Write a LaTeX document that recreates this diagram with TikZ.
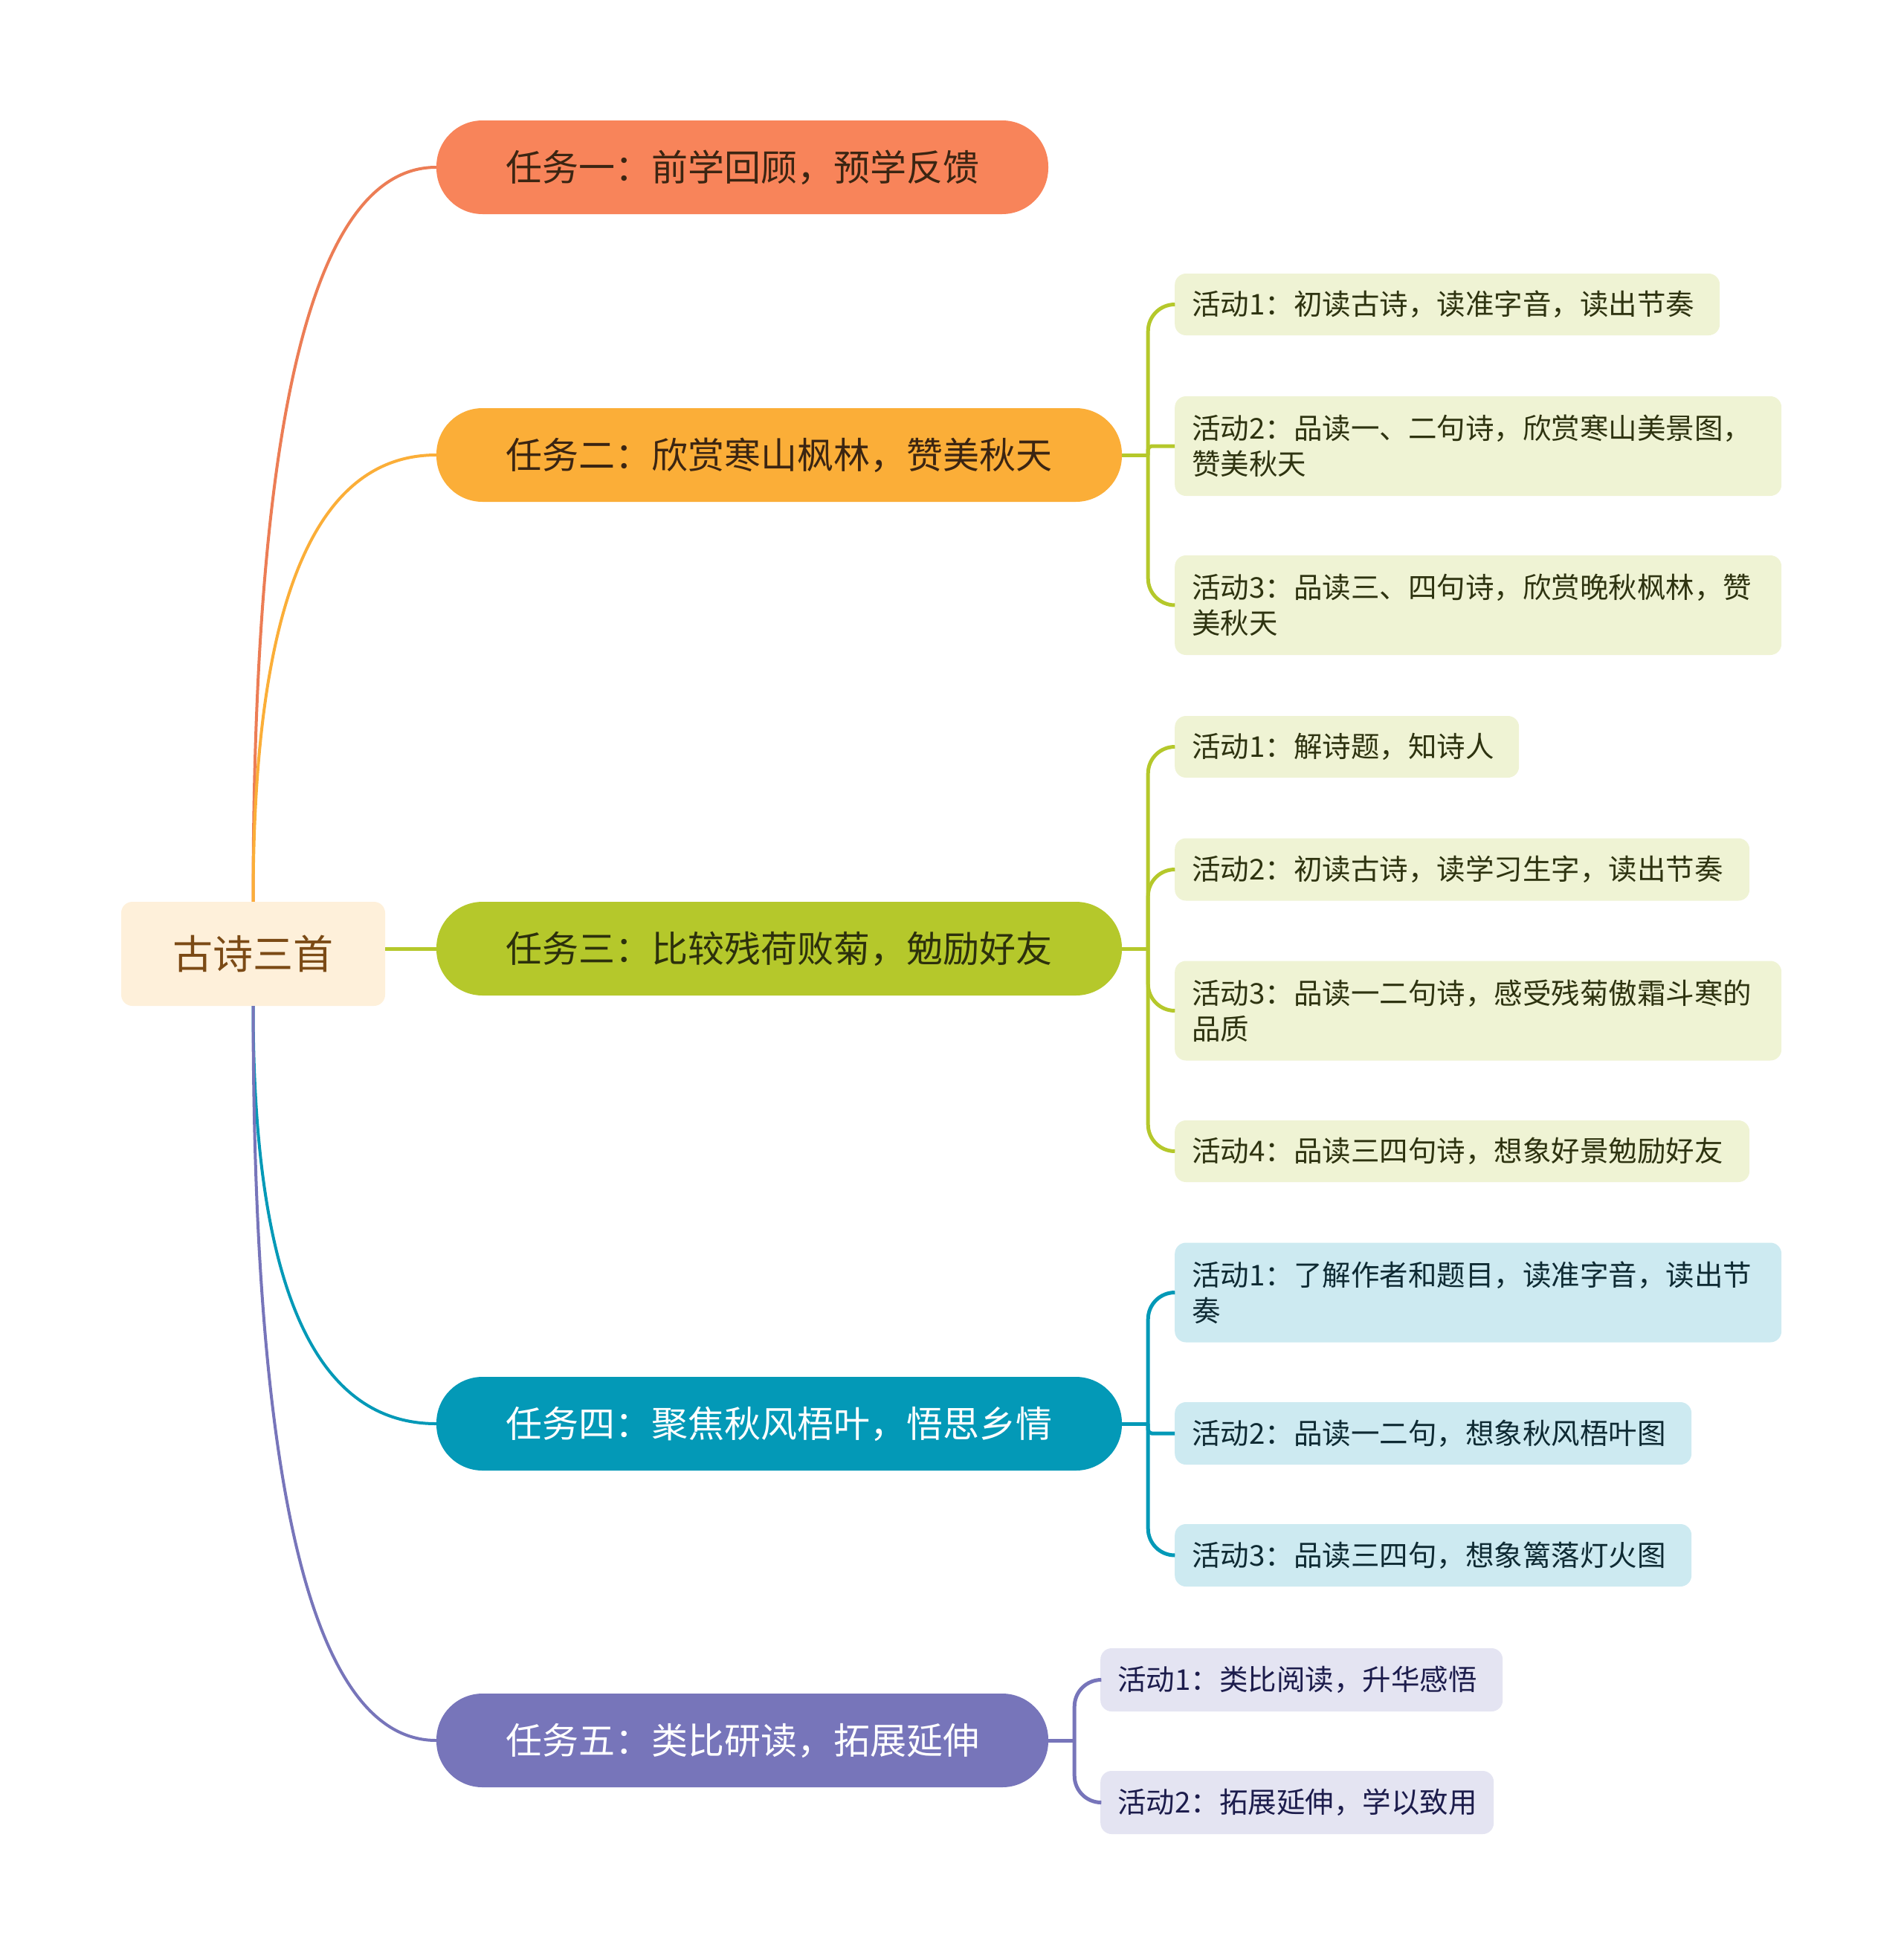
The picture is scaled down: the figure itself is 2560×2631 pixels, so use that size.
\documentclass[tikz,border=0pt]{standalone}
\usepackage{fontspec}
\newfontfamily\cjk{Noto Sans CJK SC}
\usetikzlibrary{calc}
\definecolor{cA}{HTML}{F8845A}
\definecolor{cB}{HTML}{FBAE38}
\definecolor{cC}{HTML}{B5C82B}
\definecolor{cD}{HTML}{0399B7}
\definecolor{cE}{HTML}{7775BA}
\definecolor{rootfill}{HTML}{FEF0DA}
\definecolor{roottext}{HTML}{7B4A15}
\definecolor{darkA}{HTML}{3B2512}
\definecolor{darkC}{HTML}{2C300C}
\definecolor{actgreen}{HTML}{EFF3D4}
\definecolor{actteal}{HTML}{CDEAF1}
\definecolor{actlav}{HTML}{E4E4F2}
\definecolor{txgreen}{HTML}{2E3310}
\definecolor{txteal}{HTML}{0E2A33}
\definecolor{txlav}{HTML}{1C1C4C}
\tikzset{
  rootbox/.style={fill=rootfill, text=roottext, rounded corners=15pt, minimum width=355pt, minimum height=140pt, inner sep=0pt, font=\cjk\fontsize{54}{66}\selectfont},
  taskbox/.style={rounded corners=62pt, minimum height=126pt, inner sep=0pt, font=\cjk\fontsize{49}{60}\selectfont},
  actbox/.style={anchor=west, rounded corners=15pt, inner xsep=23pt, inner ysep=0pt, align=left, font=\cjk\fontsize{38.5}{48}\selectfont},
  rootlink/.style={line width=4pt},
  sublink/.style={line width=5pt},
}
\begin{document}
\begin{tikzpicture}[x=1pt,y=-1pt]
\useasboundingbox (0,0) rectangle (2560,2631);
% root
\node[rootbox] (root) at (340.5,1283) {古诗三首};
% tasks
\node[taskbox, fill=cA, text=darkA, minimum width=823pt] (t1) at (998.5,225) {任务一：前学回顾，预学反馈};
\node[taskbox, fill=cB, text=darkA, minimum width=922pt] (t2) at (1048,612) {任务二：欣赏寒山枫林，赞美秋天};
\node[taskbox, fill=cC, text=darkC, minimum width=922pt] (t3) at (1048,1276) {任务三：比较残荷败菊，勉励好友};
\node[taskbox, fill=cD, text=white, minimum width=922pt] (t4) at (1048,1915) {任务四：聚焦秋风梧叶，悟思乡情};
\node[taskbox, fill=cE, text=white, minimum width=823pt] (t5) at (998.5,2341) {任务五：类比研读，拓展延伸};
% activities of task 2
\node[actbox, fill=actgreen, text=txgreen, text width=687pt, minimum height=83pt] (t2a1) at (1580,409.5) {活动1：初读古诗，读准字音，读出节奏};
\node[actbox, fill=actgreen, text=txgreen, text width=770pt, minimum height=134pt] (t2a2) at (1580,600) {活动2：品读一、二句诗，欣赏寒山美景图，\\赞美秋天};
\node[actbox, fill=actgreen, text=txgreen, text width=770pt, minimum height=134pt] (t2a3) at (1580,814) {活动3：品读三、四句诗，欣赏晚秋枫林，赞\\美秋天};
% activities of task 3
\node[actbox, fill=actgreen, text=txgreen, text width=417pt, minimum height=83pt] (t3a1) at (1580,1004.5) {活动1：解诗题，知诗人};
\node[actbox, fill=actgreen, text=txgreen, text width=727pt, minimum height=84pt] (t3a2) at (1580,1169.5) {活动2：初读古诗，读学习生字，读出节奏};
\node[actbox, fill=actgreen, text=txgreen, text width=770pt, minimum height=134pt] (t3a3) at (1580,1359.5) {活动3：品读一二句诗，感受残菊傲霜斗寒的\\品质};
\node[actbox, fill=actgreen, text=txgreen, text width=727pt, minimum height=83pt] (t3a4) at (1580,1548.5) {活动4：品读三四句诗，想象好景勉励好友};
% activities of task 4
\node[actbox, fill=actteal, text=txteal, text width=770pt, minimum height=134pt] (t4a1) at (1580,1738.5) {活动1：了解作者和题目，读准字音，读出节\\奏};
\node[actbox, fill=actteal, text=txteal, text width=649pt, minimum height=84pt] (t4a2) at (1580,1928) {活动2：品读一二句，想象秋风梧叶图};
\node[actbox, fill=actteal, text=txteal, text width=649pt, minimum height=84pt] (t4a3) at (1580,2092) {活动3：品读三四句，想象篱落灯火图};
% activities of task 5
\node[actbox, fill=actlav, text=txlav, text width=495pt, minimum height=85pt] (t5a1) at (1480,2259.5) {活动1：类比阅读，升华感悟};
\node[actbox, fill=actlav, text=txlav, text width=483pt, minimum height=85pt] (t5a2) at (1480,2424.5) {活动2：拓展延伸，学以致用};
% root connectors
\coordinate (k1) at (root.north |- t1.west);
\coordinate (k2) at (root.north |- t2.west);
\coordinate (k4) at (root.south |- t4.west);
\coordinate (k5) at (root.south |- t5.west);
\draw[rootlink, draw=cA!95!black] (root.north) .. controls ($(root.north)!0.667!(k1)$) and ($(t1.west)!0.667!(k1)$) .. (t1.west);
\draw[rootlink, draw=cB] (root.north) .. controls ($(root.north)!0.667!(k2)$) and ($(t2.west)!0.667!(k2)$) .. (t2.west);
\draw[rootlink, draw=cD] (root.south) .. controls ($(root.south)!0.667!(k4)$) and ($(t4.west)!0.667!(k4)$) .. (t4.west);
\draw[rootlink, draw=cE] (root.south) .. controls ($(root.south)!0.667!(k5)$) and ($(t5.west)!0.667!(k5)$) .. (t5.west);
\draw[sublink, draw=cC] (root.east |- t3.west) -- (t3.west);
% task 2 connectors
\coordinate (j2) at ($(t2.east)+(35,0)$);
\draw[sublink, draw=cC] (t2.east) -- (j2);
\draw[sublink, draw=cC, rounded corners=36pt] (j2) |- (t2a1.west);
\draw[sublink, draw=cC, rounded corners=5pt] (j2) |- (t2a2.west);
\draw[sublink, draw=cC, rounded corners=36pt] (j2) |- (t2a3.west);
% task 3 connectors
\coordinate (j3) at ($(t3.east)+(35,0)$);
\draw[sublink, draw=cC] (t3.east) -- (j3);
\draw[sublink, draw=cC, rounded corners=36pt] (j3) |- (t3a1.west);
\draw[sublink, draw=cC, rounded corners=36pt] (j3) |- (t3a2.west);
\draw[sublink, draw=cC, rounded corners=36pt] (j3) |- (t3a3.west);
\draw[sublink, draw=cC, rounded corners=36pt] (j3) |- (t3a4.west);
% task 4 connectors
\coordinate (j4) at ($(t4.east)+(35,0)$);
\draw[sublink, draw=cD] (t4.east) -- (j4);
\draw[sublink, draw=cD, rounded corners=36pt] (j4) |- (t4a1.west);
\draw[sublink, draw=cD, rounded corners=5pt] (j4) |- (t4a2.west);
\draw[sublink, draw=cD, rounded corners=36pt] (j4) |- (t4a3.west);
% task 5 connectors
\coordinate (j5) at ($(t5.east)+(35,0)$);
\draw[sublink, draw=cE] (t5.east) -- (j5);
\draw[sublink, draw=cE, rounded corners=36pt] (j5) |- (t5a1.west);
\draw[sublink, draw=cE, rounded corners=36pt] (j5) |- (t5a2.west);
\end{tikzpicture}
\end{document}
